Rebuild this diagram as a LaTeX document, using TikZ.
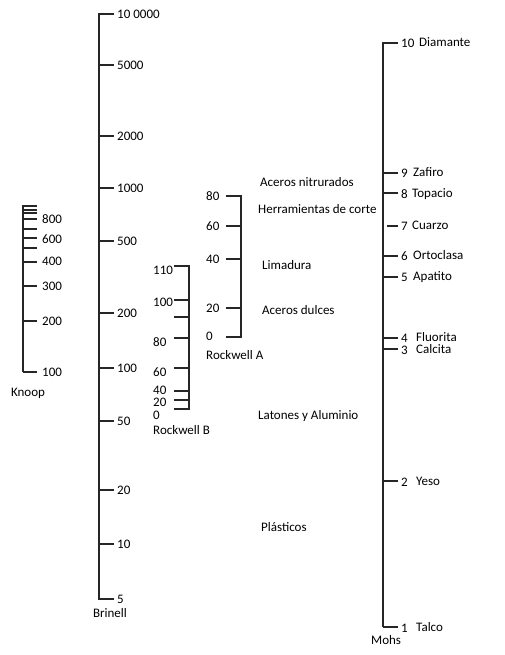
\documentclass[tikz,border=0pt]{standalone}
\usepackage{fontspec}
\setmainfont{Carlito}
\begin{document}
\begin{tikzpicture}[x=1pt, y=-1pt,
  scaleline/.style={line width=1.6pt, black!85},
  lbl/.style={font=\fontsize{13}{15}\selectfont, inner sep=0pt, text height=0.7em, text depth=0.2em, anchor=west, yshift=-1pt},
  num/.style={lbl, text height=0.63em, text depth=0pt, yshift=0pt}]
\useasboundingbox (0,0) rectangle (505,655);

% Knoop
\draw[scaleline] (23,205) -- (23,372);
\foreach \y in {206,210,213,219,229,238,248,262,286,321,372}
  \draw[scaleline] (23,\y) -- (37,\y);
\foreach \v/\y in {800/219,600/239,400/261,300/286,200/321,100/372}
  \node[num] at (42,\y) {\v};
\node[lbl, anchor=center] at (28,393) {Knoop};

% Brinell
\draw[scaleline] (114,14) -- (99,14) -- (99,599) -- (114,599);
\foreach \y in {65,136,188,241,313,368,421,490,544}
  \draw[scaleline] (99,\y) -- (114,\y);
\foreach \v/\y in {10 0000/14,5000/65,2000/136,1000/188,500/241,200/313,100/368,50/421,20/490,10/544,5/599}
  \node[num] at (117,\y) {\v};
\node[lbl, anchor=center] at (110,614) {Brinell};

% Rockwell B
\draw[scaleline] (174,266) -- (189,266) -- (189,409) -- (174,409);
\foreach \y in {300,317,338,368,391,400}
  \draw[scaleline] (174,\y) -- (189,\y);
\foreach \v/\y in {110/270,100/302,80/342,60/372,40/390,20/402.5,0/415}
  \node[num] at (153,\y) {\v};
\node[lbl] at (153,431) {Rockwell B};

% Rockwell A
\draw[scaleline] (226,196) -- (241,196) -- (241,337) -- (226,337);
\foreach \y in {226,259,308}
  \draw[scaleline] (226,\y) -- (241,\y);
\foreach \v/\y in {80/196,60/226,40/259,20/308,0/336}
  \node[num] at (206,\y) {\v};
\node[lbl] at (206,356) {Rockwell A};

% Applications
\node[lbl] at (260,183) {Aceros nitrurados};
\node[lbl] at (258,210) {Herramientas de corte};
\node[lbl] at (262,266) {Limadura};
\node[lbl] at (262,311) {Aceros dulces};
\node[lbl] at (258,416) {Latones y Aluminio};
\node[lbl] at (261,528) {Plásticos};

% Mohs
\draw[scaleline] (383,627) -- (383,43) -- (398,43);
\foreach \y in {173,193,256,277,338,349,481,627}
  \draw[scaleline] (383,\y) -- (398,\y);
\draw[scaleline] (387,226) -- (398,226);
\foreach \n/\m/\x/\y in {10/Diamante/419/43, 9/Zafiro/413/173, 8/Topacio/412/194, 7/Cuarzo/412/226,
    6/Ortoclasa/413/256, 5/Apatito/413/277, 4/Fluorita/416/338, 3/Calcita/416/350, 2/Yeso/416/482, 1/Talco/416/628}
  {
  \node[num] at (401,\y) {\n};
  \node[lbl] at (\x,\y) {\m};
  }
\node[lbl] at (371,641) {Mohs};

\end{tikzpicture}
\end{document}
